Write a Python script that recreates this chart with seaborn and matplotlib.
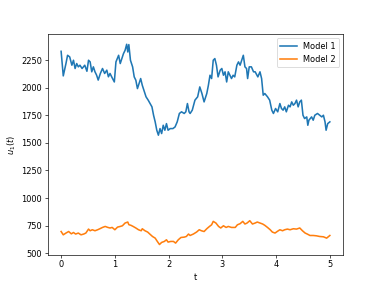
import numpy as np
import matplotlib
matplotlib.use("Agg")
import matplotlib.pyplot as plt
import seaborn as sns

# Model 1 readings (t, u1)
t1 = [0.00, 0.04, 0.09, 0.12, 0.16, 0.20, 0.23, 0.26, 0.29, 0.32, 0.35, 0.39,
      0.44, 0.48, 0.51, 0.54, 0.57, 0.60, 0.63, 0.66, 0.69, 0.73, 0.77, 0.81,
      0.85, 0.88, 0.91, 0.94, 0.99, 1.02, 1.07, 1.10, 1.13, 1.16, 1.19, 1.22,
      1.24, 1.26, 1.29, 1.33, 1.36, 1.39, 1.42, 1.45, 1.48, 1.51, 1.54, 1.58,
      1.62, 1.655, 1.69, 1.72, 1.75, 1.78, 1.81, 1.84, 1.87, 1.90, 1.93, 1.96,
      1.99, 2.03, 2.08, 2.12, 2.16, 2.20, 2.24, 2.29, 2.32, 2.35, 2.38, 2.40,
      2.44, 2.49, 2.54, 2.58, 2.62, 2.66, 2.71, 2.74, 2.77, 2.80, 2.83, 2.86,
      2.89, 2.92, 2.96, 2.99, 3.02, 3.05, 3.08, 3.11, 3.14, 3.17, 3.20, 3.23,
      3.27, 3.30, 3.33, 3.36, 3.39, 3.42, 3.45, 3.47, 3.50, 3.54, 3.58, 3.61,
      3.66, 3.70, 3.73, 3.76, 3.79, 3.84, 3.88, 3.92, 3.95, 3.99, 4.03, 4.07,
      4.10, 4.13, 4.16, 4.19, 4.23, 4.26, 4.29, 4.32, 4.35, 4.38, 4.41, 4.44,
      4.47, 4.50, 4.53, 4.57, 4.59, 4.61, 4.66, 4.69, 4.72, 4.77, 4.81, 4.85,
      4.88, 4.91, 4.93, 4.96, 5.00]
model1 = [2331, 2108, 2220, 2295, 2280, 2205, 2250, 2175, 2220, 2190, 2205, 2175,
          2205, 2150, 2250, 2235, 2145, 2190, 2145, 2115, 2070, 2130, 2175, 2130,
          2160, 2100, 2130, 2100, 2053, 2235, 2295, 2220, 2265, 2310, 2340, 2395,
          2325, 2392, 2250, 2190, 2099, 2069, 1993, 2039, 2084, 2023, 1978, 1918,
          1888, 1857, 1827, 1751, 1691, 1615, 1570, 1630, 1585, 1660, 1615, 1675,
          1615, 1630, 1630, 1645, 1691, 1767, 1782, 1767, 1782, 1857, 1782, 1767,
          1797, 1888, 1918, 2008, 1948, 1872, 1948, 2023, 2114, 2084, 2250, 2265,
          2205, 2099, 2160, 2175, 2114, 2145, 2053, 2145, 2114, 2084, 2114, 2099,
          2205, 2235, 2205, 2250, 2295, 2190, 2175, 2084, 2190, 2190, 2145, 2145,
          2099, 2145, 2084, 1933, 1948, 1918, 1888, 1797, 1767, 1812, 1782, 1857,
          1812, 1797, 1827, 1782, 1842, 1827, 1872, 1842, 1857, 1888, 1827, 1872,
          1888, 1751, 1721, 1736, 1660, 1706, 1736, 1706, 1751, 1767, 1751, 1736,
          1751, 1691, 1615, 1675, 1691]

# Model 2 readings (t, u1)
t2 = [0.00, 0.04, 0.09, 0.14, 0.19, 0.23, 0.27, 0.32, 0.37, 0.42, 0.46, 0.51,
      0.54, 0.58, 0.63, 0.68, 0.72, 0.77, 0.82, 0.87, 0.91, 0.95, 1.00, 1.05,
      1.10, 1.14, 1.19, 1.24, 1.26, 1.30, 1.34, 1.39, 1.44, 1.49, 1.51, 1.56,
      1.61, 1.65, 1.70, 1.75, 1.79, 1.83, 1.87, 1.92, 1.96, 1.99, 2.04, 2.09,
      2.13, 2.18, 2.23, 2.29, 2.33, 2.37, 2.40, 2.46, 2.52, 2.57, 2.61, 2.66,
      2.71, 2.76, 2.80, 2.83, 2.88, 2.93, 2.97, 3.02, 3.07, 3.11, 3.17, 3.24,
      3.28, 3.33, 3.38, 3.42, 3.46, 3.51, 3.56, 3.61, 3.65, 3.70, 3.75, 3.79,
      3.84, 3.89, 3.93, 3.98, 4.02, 4.07, 4.12, 4.16, 4.21, 4.26, 4.32, 4.38,
      4.44, 4.49, 4.54, 4.58, 4.63, 4.69, 4.75, 4.81, 4.88, 4.94, 5.00]
model2 = [696, 666, 682, 696, 675, 687, 673, 682, 666, 673, 682, 718,
          703, 712, 703, 712, 721, 733, 742, 733, 728, 733, 712, 736,
          742, 748, 773, 782, 758, 752, 742, 728, 712, 703, 721, 703,
          691, 673, 651, 636, 606, 578, 597, 606, 621, 600, 606, 606,
          591, 621, 642, 645, 651, 673, 660, 673, 691, 712, 703, 696,
          721, 742, 757, 788, 773, 742, 728, 748, 733, 742, 733, 733,
          757, 767, 788, 764, 773, 794, 764, 773, 782, 773, 764, 752,
          733, 712, 691, 682, 696, 712, 703, 712, 718, 712, 721, 718,
          728, 703, 682, 673, 660, 660, 657, 651, 648, 636, 660]

fig, ax = plt.subplots(figsize=(6.4, 4.8), dpi=59.6)
sns.lineplot(x=t1, y=model1, label="Model 1", ax=ax, linewidth=1.9)
sns.lineplot(x=t2, y=model2, label="Model 2", ax=ax, linewidth=1.9)
ax.set_xlabel("t")
ax.set_ylabel("$u_1(t)$")
ax.legend(loc="upper right")
fig.savefig("out.png", dpi=59.6)
